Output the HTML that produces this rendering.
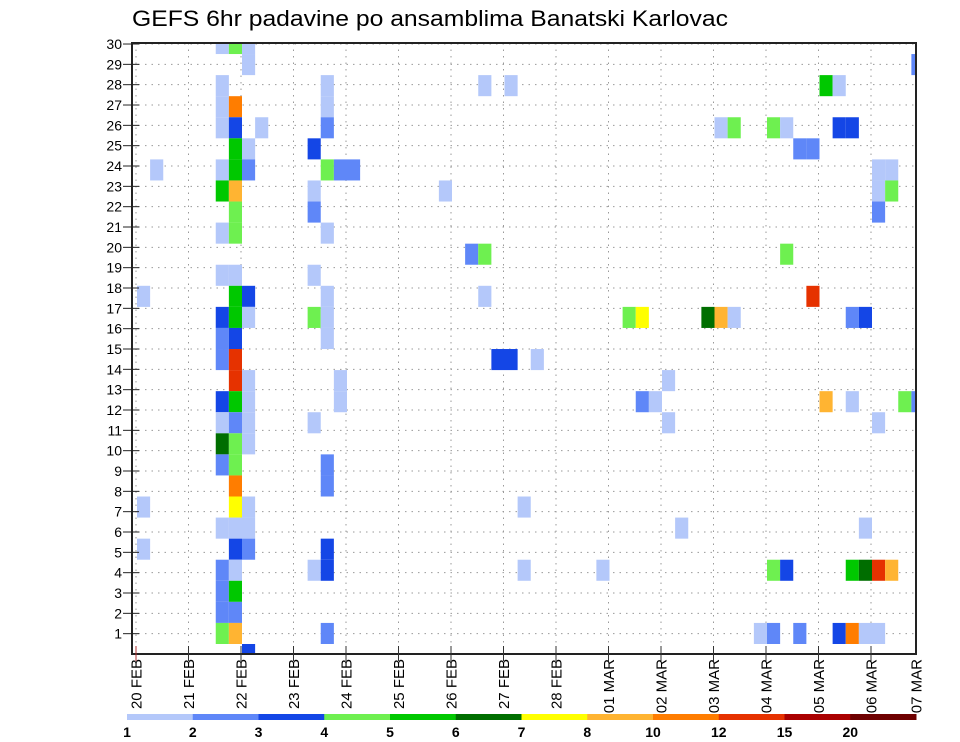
<!DOCTYPE html>
<html><head><meta charset="utf-8"><style>
html,body{margin:0;padding:0;background:#fff;}
svg{display:block;font-family:"Liberation Sans",sans-serif;}
</style></head><body>
<svg id="chart" width="960" height="742" viewBox="0 0 960 742" xmlns="http://www.w3.org/2000/svg">
<defs><clipPath id="plotclip"><rect x="132" y="43" width="784" height="611"/></clipPath></defs>
<text x="132" y="26" font-size="22" textLength="596" lengthAdjust="spacingAndGlyphs" fill="#000">GEFS 6hr padavine po ansamblima Banatski Karlovac</text>
<g id="grid"></g>
<g id="cells" clip-path="url(#plotclip)"></g>
<g id="axes"></g>
<g id="colorbar"></g>
</svg>
<script>
// ---- data ----
const dayLabels = ["20 FEB","21 FEB","22 FEB","23 FEB","24 FEB","25 FEB","26 FEB","27 FEB","28 FEB","01 MAR","02 MAR","03 MAR","04 MAR","05 MAR","06 MAR","07 MAR"];
const memberTicks = [1,2,3,4,5,6,7,8,9,10,11,12,13,14,15,16,17,18,19,20,21,22,23,24,25,26,27,28,29,30];
const levelLabels = ["1","2","3","4","5","6","7","8","10","12","15","20"];
const levels = [1,2,3,4,5,6,7,8,10,12,15,20];
const levelColors = ["#b4c8fa","#5f87f8","#1446e6","#6ef050","#00c800","#006e00","#ffff00","#ffb432","#ff7d00","#e63200","#aa0000","#6e0000"];
// cells: 6-hour step index, ensemble member slot, precipitation (mm)
const stepIdx = [0,0,0,1,
 6,6,6,6,6,6,6,6,6,6,6,6,6,6,6,6,6,6,6,6,
 7,7,7,7,7,7,7,7,7,7,7,7,7,7,7,7,7,7,7,7,7,7,7,7,7,7,
 8,8,8,8,8,8,8,8,8,8,8,8,8,8,
 9,
 13,13,13,13,13,13,13,
 14,14,14,14,14,14,14,14,14,14,14,14,14,
 15,15,15,16,
 23,25,26,26,26,28,27,28,30,29,29,35,
 37,38,38,39,40,40,41,
 43,44,44,45,45,
 47,48,48,48,49,49,49,50,50,51,51,
 52,52,53,53,53,54,54,54,54,54,55,55,55,55,
 56,56,56,56,56,56,57,57,57,58,59,59];
const memberIdx = [17,7,5,23,
 29,27,26,25,23,22,20,18,16,15,14,12,11,10,9,6,4,3,2,1,
 29,26,25,24,23,22,21,20,18,17,16,15,14,13,12,11,10,9,8,7,6,5,4,3,2,1,
 29,28,24,23,17,16,13,12,11,10,7,6,5,0,
 25,
 24,22,21,18,16,11,4,
 27,26,25,23,20,17,16,15,9,8,5,4,1,
 23,13,12,23,
 22,19,19,27,17,27,14,14,14,7,4,4,
 16,16,12,12,13,11,6,
 16,16,25,16,25,
 1,25,4,1,25,19,4,24,1,24,17,
 27,12,27,25,1,25,16,12,4,1,16,6,4,1,
 23,22,21,11,4,1,23,22,4,12,28,12];
const precip = [1.5,1.5,1.5,1.5,
 1.5,1.5,1.5,1.5,1.5,5.5,1.5,1.5,3.5,2.5,2.5,3.5,1.5,6.5,2.5,1.5,2.5,2.5,2.5,4.5,
 4.5,11,3.5,5.5,5.5,9,4.5,4.5,1.5,5.5,5.5,3.5,13.5,13.5,5.5,2.5,4.5,4.5,11,7.5,1.5,3.5,1.5,5.5,2.5,9,
 1.5,1.5,1.5,2.5,3.5,1.5,1.5,1.5,1.5,1.5,1.5,1.5,2.5,3.5,
 1.5,
 3.5,1.5,2.5,1.5,4.5,1.5,1.5,
 1.5,1.5,2.5,4.5,1.5,1.5,1.5,1.5,2.5,2.5,3.5,3.5,2.5,
 2.5,1.5,1.5,2.5,
 1.5,2.5,4.5,1.5,1.5,1.5,3.5,3.5,1.5,1.5,1.5,1.5,
 4.5,7.5,2.5,1.5,1.5,1.5,1.5,
 6.5,9,1.5,1.5,4.5,
 1.5,4.5,4.5,2.5,1.5,4.5,3.5,2.5,2.5,2.5,13.5,
 5.5,9,1.5,3.5,3.5,3.5,2.5,1.5,5.5,11,3.5,1.5,6.5,1.5,
 1.5,1.5,2.5,1.5,13.5,1.5,1.5,4.5,9,4.5,2.5,2.5];

// ---- scales ----
const PL=132, PR=916, PT=43, PB=654;
const X0=137, STEP=13.125, DAY=52.5, TICK0=136;
const xStep = k => X0 + k*STEP;
const xDay = d => TICK0 + d*DAY;
const CH=21.07;
const yCellTop = j => 644 - j*CH;
const yMember = r => 654 - r*(611/30.05);
function colorFor(v){let c=levelColors[0];for(let i=0;i<levels.length;i++){if(v>=levels[i])c=levelColors[i];}return c;}
const NS="http://www.w3.org/2000/svg";
function mk(tag,attrs,parent){const e=document.createElementNS(NS,tag);for(const a in attrs)e.setAttribute(a,attrs[a]);parent.appendChild(e);return e;}

const grid=document.getElementById('grid');
memberTicks.forEach(r=>{
  const y=yMember(r);
  const l=mk('line',{x1:PL,x2:PR,y1:y,y2:y,stroke:'#9a9a9a','stroke-width':1,'stroke-dasharray':'1.5,5'},grid);
  
  
});
dayLabels.forEach((d,i)=>{
  const x=xDay(i); if(x>PR-2) return;
  const l=mk('line',{x1:x,x2:x,y1:PT,y2:PB,stroke:'#9a9a9a','stroke-width':1,'stroke-dasharray':'1.5,5'},grid);
  
  
});

const cells=document.getElementById('cells');
for(let i=0;i<stepIdx.length;i++){
  const r=mk('rect',{x:xStep(stepIdx[i]),y:yCellTop(memberIdx[i]),width:STEP,height:CH,fill:colorFor(precip[i])},cells);
  
  
}

const axes=document.getElementById('axes');
const frame=mk('rect',{x:PL,y:PT,width:PR-PL,height:PB-PT,fill:'none',stroke:'#222','stroke-width':2},axes);


memberTicks.forEach(r=>{
  const y=yMember(r);
  const t=mk('line',{x1:123,x2:139,y1:y,y2:y,stroke:'#222','stroke-width':1},axes);
  
  
  const lb=mk('text',{x:122,y:y+5,'text-anchor':'end','font-size':14,fill:'#000'},axes);
  lb.textContent=r;
  
  
});
dayLabels.forEach((d,i)=>{
  let x=xDay(i);
  if(x<=PR-2){
    const t=mk('line',{x1:x,x2:x,y1:PB-8,y2:PB+7,stroke:i===0?'#b03030':'#333','stroke-width':1},axes);
    
    
  } else { x=PR; }
  const lb=mk('text',{x:0,y:0,'text-anchor':'end','font-size':15,fill:'#000',transform:`translate(${x+5.5},659) rotate(-90)`},axes);
  lb.textContent=d.replace(' ','  ');
  lb.setAttribute('xml:space','preserve');
  
  
});

const cb=document.getElementById('colorbar');
const CBX=127, CBW=65.75;
levelColors.forEach((c,i)=>{
  const r=mk('rect',{x:CBX+i*CBW,y:714,width:CBW+0.5,height:6,fill:c},cb);
  
  
});
levelLabels.forEach((s,i)=>{
  const t=mk('text',{x:CBX+i*CBW,y:737,'text-anchor':'middle','font-size':14,'font-weight':'bold',fill:'#000'},cb);
  t.textContent=s;
  
  
});
</script>
</body></html>
